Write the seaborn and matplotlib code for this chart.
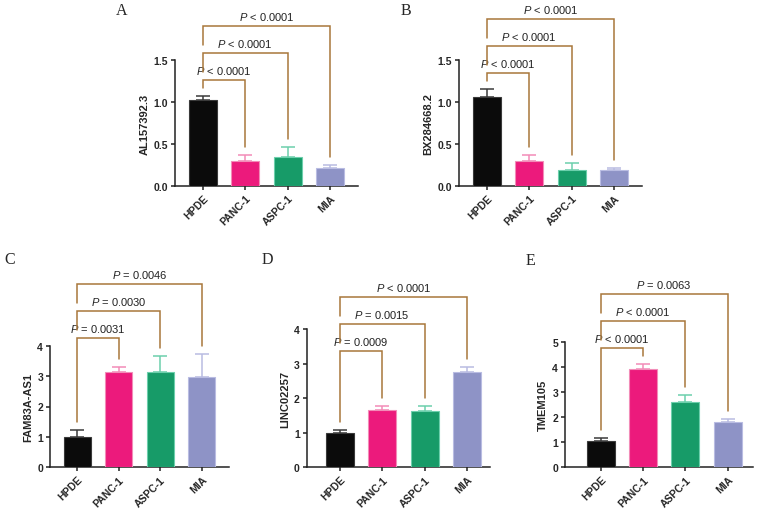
import numpy as np
import pandas as pd
import matplotlib
matplotlib.use("Agg")
import matplotlib.pyplot as plt
from matplotlib import font_manager as fm
import seaborn as sns

# avoid the condensed "Narrow" faces being picked for Liberation Sans
fm.fontManager.ttflist = [f for f in fm.fontManager.ttflist if "Narrow" not in f.name]

# ---------------- data ----------------
cells = ["HPDE", "PANC-1", "ASPC-1", "MIA"]
bar_colors = ["#0b0b0b", "#ec1a7c", "#179b68", "#8e93c6"]
err_colors = ["#3a3a3a", "#f28cb8", "#6ccfac", "#b9bce2"]
bracket_color = "#a8773a"

genes = ["AL157392.3", "BX284668.2", "FAM83A-AS1", "LINC02257", "TMEM105"]
letters = ["A", "B", "C", "D", "E"]

mean_A = [1.02, 0.30, 0.34, 0.21]
sd_A = [0.055, 0.065, 0.12, 0.04]
mean_B = [1.06, 0.30, 0.19, 0.19]
sd_B = [0.10, 0.065, 0.08, 0.02]
mean_C = [1.01, 3.12, 3.12, 2.98]
sd_C = [0.22, 0.19, 0.55, 0.74]
mean_D = [1.00, 1.67, 1.62, 2.75]
sd_D = [0.09, 0.09, 0.14, 0.16]
mean_E = [1.03, 3.90, 2.60, 1.79]
sd_E = [0.12, 0.23, 0.28, 0.13]

p_A = ["P < 0.0001", "P < 0.0001", "P < 0.0001"]
p_B = ["P < 0.0001", "P < 0.0001", "P < 0.0001"]
p_C = ["P = 0.0031", "P = 0.0030", "P = 0.0046"]
p_D = ["P = 0.0009", "P = 0.0015", "P < 0.0001"]
p_E = ["P < 0.0001", "P < 0.0001", "P = 0.0063"]

ticks_A = [0.0, 0.5, 1.0, 1.5]
ticks_B = [0.0, 0.5, 1.0, 1.5]
ticks_C = [0, 1, 2, 3, 4]
ticks_D = [0, 1, 2, 3, 4]
ticks_E = [0, 1, 2, 3, 4, 5]

means = [mean_A, mean_B, mean_C, mean_D, mean_E]
sds = [sd_A, sd_B, sd_C, sd_D, sd_E]
pvals = [p_A, p_B, p_C, p_D, p_E]
ticks = [ticks_A, ticks_B, ticks_C, ticks_D, ticks_E]
fmts = ["{:.1f}", "{:.1f}", "{:.0f}", "{:.0f}", "{:.0f}"]

# ---------------- layout (pixels) ----------------
W, H = 760, 510
# left, top, width, height (pixel), xlim
layout = [
    (175, 61, 183, 126, (-0.66, 3.66)),
    (459, 61, 183, 126, (-0.66, 3.66)),
    (50, 346.7, 179, 121.6, (-0.66, 3.66)),
    (306.7, 330, 183, 138.3, (-0.78, 3.53)),
    (565, 342.7, 188, 125.6, (-0.85, 3.60)),
]
letter_pos = [(122, 11), (406, 11), (10, 260), (267, 260), (530, 261)]

sns.set_theme(style="ticks")
plt.rcParams["font.family"] = ["Liberation Sans", "DejaVu Sans"]
plt.rcParams["mathtext.fontset"] = "custom"
plt.rcParams["mathtext.it"] = "Liberation Sans:italic"
plt.rcParams["mathtext.rm"] = "Liberation Sans"

fig = plt.figure(figsize=(W / 100, H / 100), dpi=100)

for idx in range(5):
    left, top, w, h, xl = layout[idx]
    ax = fig.add_axes([left / W, (H - top - h) / H, w / W, h / H])
    m, s = means[idx], sds[idx]
    df = pd.DataFrame({"cell": cells, "value": m})
    sns.barplot(data=df, x="cell", y="value", hue="cell", palette=bar_colors,
                order=cells, hue_order=cells, width=0.66, errorbar=None,
                saturation=1, legend=False, ax=ax, zorder=3)
    for p, ec in zip(ax.patches, err_colors):
        p.set_edgecolor(ec)
        p.set_linewidth(0.8)
    for i in range(4):
        ax.errorbar(i, m[i], yerr=[[0], [s[i]]], color=err_colors[i],
                    capsize=5, elinewidth=1.1, capthick=1.1, zorder=2)
    ytop = ticks[idx][-1]
    ax.set_ylim(0, ytop)
    ax.set_xlim(*xl)
    ax.set_yticks(ticks[idx])
    ax.set_yticklabels([fmts[idx].format(t) for t in ticks[idx]],
                       fontsize=7.5, fontweight="bold")
    ax.set_xticks(range(4))
    ax.set_xticklabels(cells, rotation=45, ha="right", rotation_mode="anchor",
                       fontsize=7.5, fontweight="bold")
    ax.set_xlabel("")
    ax.set_ylabel(genes[idx], fontsize=8, fontweight="bold", labelpad=3)
    for sp in ["top", "right"]:
        ax.spines[sp].set_visible(False)
    for sp in ["left", "bottom"]:
        ax.spines[sp].set_linewidth(1.1)
        ax.spines[sp].set_color("#222222")
    ax.tick_params(axis="both", length=3, width=1.1, color="#222222", pad=2)

    # significance brackets
    ppu = h / ytop
    tops = [a + b for a, b in zip(m, s)]
    gap = 8 / ppu
    base = max(tops) + 16 / ppu
    levels = [base + k * 27 / ppu for k in range(3)]
    for k, j in enumerate([1, 2, 3]):
        lev = levels[k]
        lb = tops[0] + gap if k == 0 else levels[k - 1] + gap
        rb = tops[j] + gap
        ax.plot([0, 0, j, j], [lb, lev, lev, rb], color=bracket_color, lw=1.1,
                clip_on=False, solid_joinstyle="miter", zorder=4)
        txt = pvals[idx][k].replace("P", r"$\mathit{P}$", 1)
        ax.text(j / 2, lev + 4 / ppu, txt, ha="center", va="bottom",
                fontsize=8, color="#222222", clip_on=False)

    lx, ly = letter_pos[idx]
    fig.text(lx / W, 1 - ly / H, letters[idx], ha="center", va="center",
             fontsize=11.5, family=["Liberation Serif", "DejaVu Serif"])

fig.savefig("out.png", dpi=100)
